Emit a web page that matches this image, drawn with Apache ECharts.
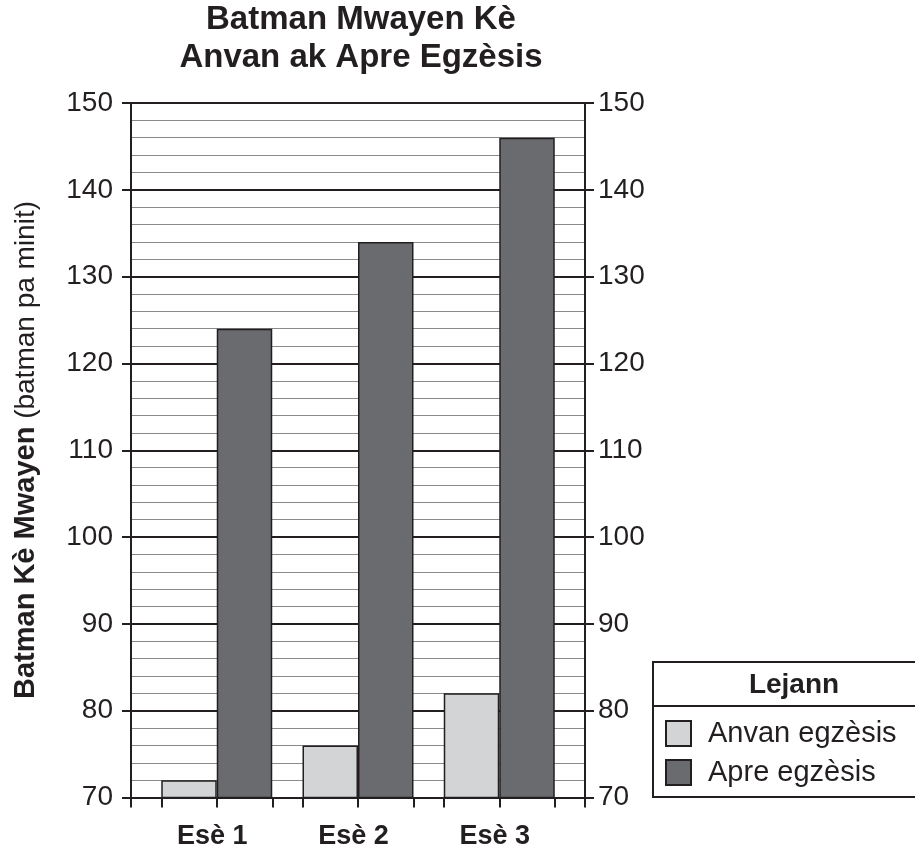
<!DOCTYPE html>
<html><head><meta charset="utf-8">
<script src="https://cdn.jsdelivr.net/npm/echarts@6/dist/echarts.min.js"></script>
<style>html,body{margin:0;padding:0;background:#fff}#c{width:915px;height:852px}</style>
</head><body><div id="c"></div>
<script>
// ---- data ----
const categories = ['Esè 1', 'Esè 2', 'Esè 3'];
const seriesNames = ['Anvan egzèsis', 'Apre egzèsis'];
const beforeValues = [72, 76, 82];
const afterValues = [124, 134, 146];
const yMin = 70, yMax = 150, yStep = 10;
const titleText = 'Batman Mwayen Kè\nAnvan ak Apre Egzèsis';
const yNameBold = 'Batman Kè Mwayen';
const yNameNormal = '(batman pa minit)';
const legendTitle = 'Lejann';

// ---- layout ----
const FONT = '"Liberation Sans", Arial, Helvetica, sans-serif';
const INK = '#231f20';
const plotL = 131, plotR = 585, plotT = 103, plotB = 797.5;
const W = plotR - plotL;
const barW = 55.5;
const gap = (W - categories.length * 2 * barW) / (categories.length + 1);
const period = 2 * barW + gap;
const tickVals = [0];
categories.forEach((c, i) => { for (let k = 0; k < 3; k++) tickVals.push(gap + i * period + k * barW); });
tickVals.push(W);

const chart = echarts.init(document.getElementById('c'));
const yCommon = {
  min: yMin, max: yMax, interval: yStep,
  axisLine: { show: true, lineStyle: { color: INK, width: 2 } },
  axisTick: { show: true, length: 9, lineStyle: { color: INK, width: 2 } },
  axisLabel: { fontFamily: FONT, fontSize: 28, color: INK },
  minorTick: { show: false, splitNumber: 5 },
  minorSplitLine: { show: false }
};
chart.setOption({
  backgroundColor: '#fff',
  animation: false,
  title: {
    text: titleText, left: 361, top: 1, padding: 0, textAlign: 'center',
    textStyle: { fontFamily: FONT, fontSize: 33, fontWeight: 'bold', color: INK, lineHeight: 38 }
  },
  grid: [
    { left: plotL, top: plotT, width: W, height: plotB - plotT },
    { left: plotL + gap / 2, top: plotT, width: period * categories.length, height: plotB - plotT }
  ],
  xAxis: [
    { type: 'value', gridIndex: 0, min: 0, max: W,
      axisLine: { show: true, onZero: false, lineStyle: { color: INK, width: 2 } },
      axisTick: { show: true, length: 10, customValues: tickVals, lineStyle: { color: INK, width: 2 } },
      axisLabel: { show: false }, splitLine: { show: false } },
    { type: 'category', gridIndex: 1, data: categories,
      axisLine: { show: false }, axisTick: { show: false },
      axisLabel: { fontFamily: FONT, fontSize: 27, fontWeight: 'bold', color: INK, margin: 26,
        padding: [0, 9, 0, 0] } }
  ],
  yAxis: [
    Object.assign({}, yCommon, { type: 'value', gridIndex: 0, position: 'left',
      axisLabel: Object.assign({}, yCommon.axisLabel, { margin: 18 }),
      splitLine: { show: true, lineStyle: { color: INK, width: 2 } },
      minorTick: { show: false, splitNumber: 5 },
      minorSplitLine: { show: true, lineStyle: { color: '#8a8a8a', width: 1 } } }),
    Object.assign({}, yCommon, { type: 'value', gridIndex: 0, position: 'right',
      axisLabel: Object.assign({}, yCommon.axisLabel, { margin: 13 }),
      splitLine: { show: false } }),
    { type: 'value', gridIndex: 1, min: yMin, max: yMax, show: false }
  ],
  legend: {
    data: seriesNames, orient: 'vertical', left: 665, top: 719, padding: 0,
    itemWidth: 25, itemHeight: 25, itemGap: 10, icon: 'rect',
    textStyle: { fontFamily: FONT, fontSize: 29, color: INK, padding: [0, 0, 0, 12] }
  },
  series: [
    { name: seriesNames[0], type: 'bar', xAxisIndex: 1, yAxisIndex: 2, data: beforeValues,
      barWidth: barW, barGap: '0%',
      itemStyle: { color: '#d3d4d6', borderColor: INK, borderWidth: 1.5 } },
    { name: seriesNames[1], type: 'bar', xAxisIndex: 1, yAxisIndex: 2, data: afterValues,
      barWidth: barW, barGap: '0%',
      itemStyle: { color: '#6a6b6f', borderColor: INK, borderWidth: 1.5 } }
  ],
  graphic: [
    { type: 'rect', shape: { x: 653, y: 662, width: 290, height: 135 },
      style: { fill: 'none', stroke: INK, lineWidth: 2 }, z: 10 },
    { type: 'line', shape: { x1: 653, y1: 706, x2: 943, y2: 706 },
      style: { stroke: INK, lineWidth: 2 }, z: 10 },
    { type: 'text', x: 794, y: 685, z: 10,
      style: { text: legendTitle, font: 'bold 28px ' + FONT, fill: INK,
        align: 'center', verticalAlign: 'middle', textAlign: 'center', textVerticalAlign: 'middle' } },
    { type: 'text', x: 26, y: 450, rotation: Math.PI / 2, z: 10,
      style: { text: '{b|' + yNameBold + '} {n|' + yNameNormal + '}',
        align: 'center', verticalAlign: 'middle', textAlign: 'center', textVerticalAlign: 'middle',
        fill: INK, font: '28px ' + FONT,
        rich: {
          b: { fontFamily: FONT, fontSize: 29, fontWeight: 'bold', fill: INK, color: INK },
          n: { fontFamily: FONT, fontSize: 28, fill: INK, color: INK }
        } } }
  ]
});
</script>
</body></html>
